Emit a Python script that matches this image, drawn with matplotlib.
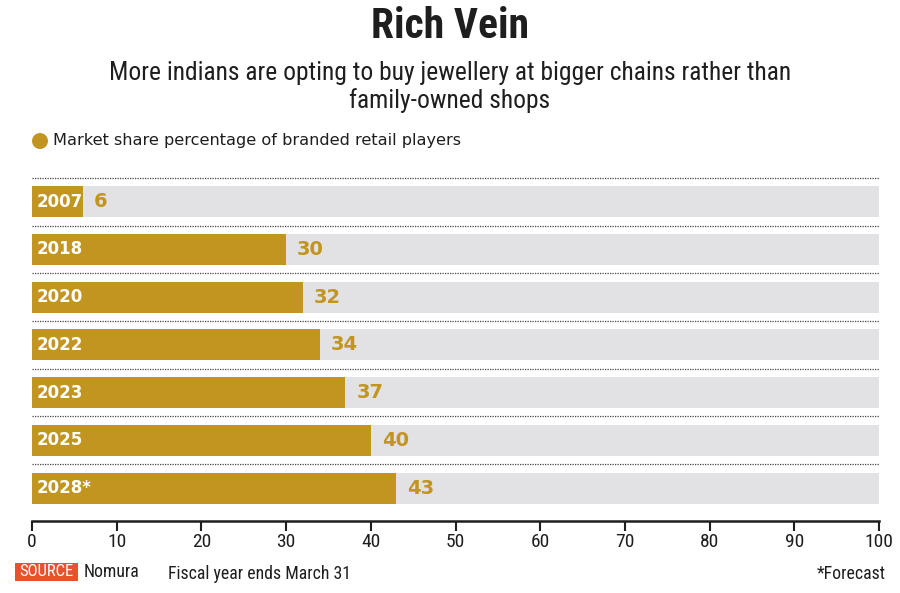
"""
Rich Vein - part de marché des bijoutiers de marque en Inde
"""

import matplotlib
matplotlib.use("Agg")
import matplotlib.pyplot as plt
from matplotlib import font_manager
from matplotlib.patches import Ellipse, Rectangle

# -------------------------------------------------------
# Données
# -------------------------------------------------------

years = ["2007", "2018", "2020", "2022", "2023", "2025", "2028*"]
share = [6, 30, 32, 34, 37, 40, 43]
x_ticks = [0, 10, 20, 30, 40, 50, 60, 70, 80, 90, 100]

title = "Rich Vein"
subtitle = ("More indians are opting to buy jewellery at bigger chains rather than\n"
            "family-owned shops")
legend_label = "Market share percentage of branded retail players"

# -------------------------------------------------------
# Polices
# -------------------------------------------------------

installed = {f.name for f in font_manager.fontManager.ttflist}


def pick(*cands):
    for c in cands:
        if c in installed:
            return c
    return "DejaVu Sans"


NARROW = pick("Roboto Condensed", "Liberation Sans Narrow", "DejaVu Sans")
BASE = "DejaVu Sans"

GOLD = "#C1951F"
GREY = "#E2E2E4"
INK = "#1E1E1E"

# -------------------------------------------------------
# Figure
# -------------------------------------------------------

W, H = 900, 593
fig = plt.figure(figsize=(W / 100, H / 100), dpi=100)

# axes placées en pixels : x de 32 à 879, y de 173 à 521
ax = fig.add_axes([32 / W, (H - 521) / H, 847 / W, 348 / H])

pos = list(range(len(years)))

ax.barh(pos, [100] * len(years), height=0.65, color=GREY, zorder=1)
ax.barh(pos, share, height=0.65, color=GOLD, zorder=2)

ax.hlines([p - 0.5 for p in pos], 0, 100, colors="#444444",
          linestyles=(0, (1, 1)), linewidth=0.9, zorder=3)

for p, y, v in zip(pos, years, share):
    ax.text(0.5, p, y, color="white", fontsize=12, fontweight="bold",
            family=BASE, va="center", ha="left", zorder=4)
    ax.text(v + 1.3, p, str(v), color=GOLD, fontsize=14, fontweight="bold",
            family=BASE, va="center", ha="left", zorder=4)

ax.set_xlim(0, 100)
ax.set_ylim(6.69, -0.6)
ax.set_xticks(x_ticks)
ax.set_xticklabels([str(t) for t in x_ticks], family=NARROW, fontsize=14,
                   color=INK)
ax.set_yticks([])
ax.tick_params(axis="x", direction="out", length=7, width=1.5,
               color=INK, pad=1.5)

for side in ["top", "right", "left"]:
    ax.spines[side].set_visible(False)
ax.spines["bottom"].set_linewidth(1.8)
ax.spines["bottom"].set_color(INK)

# -------------------------------------------------------
# Titres et légende
# -------------------------------------------------------

fig.text(0.5, 1 - 27 / H, title, ha="center", va="center", family=NARROW,
         fontsize=30, fontweight="bold", color=INK)
fig.text(0.5, 1 - 87 / H, subtitle, ha="center", va="center", family=NARROW,
         fontsize=18.4, color=INK, linespacing=1.12)

fig.patches.append(Ellipse((40 / W, 1 - 141 / H), 16 / W, 16 / H,
                           transform=fig.transFigure, facecolor=GOLD,
                           edgecolor="none", figure=fig))
fig.text(53 / W, 1 - 141 / H, legend_label, ha="left", va="center",
         family=BASE, fontsize=11.6, color=INK)

# -------------------------------------------------------
# Pied de page
# -------------------------------------------------------

fig.patches.append(Rectangle((15 / W, 1 - 581 / H), 63 / W, 18 / H,
                             transform=fig.transFigure, facecolor="#E8512B",
                             edgecolor="none", figure=fig))
fig.text(46.5 / W, 1 - 572 / H, "SOURCE", ha="center", va="center",
         family=NARROW, fontsize=12, color="white")
fig.text(84 / W, 1 - 572 / H, "Nomura", ha="left", va="center",
         family=NARROW, fontsize=12.8, color=INK)
fig.text(168 / W, 1 - 574 / H, "Fiscal year ends March 31", ha="left",
         va="center", family=NARROW, fontsize=12.8, color=INK)
fig.text(886 / W, 1 - 574 / H, "*Forecast", ha="right", va="center",
         family=NARROW, fontsize=12.8, color=INK)

fig.savefig("out.png", dpi=100)
